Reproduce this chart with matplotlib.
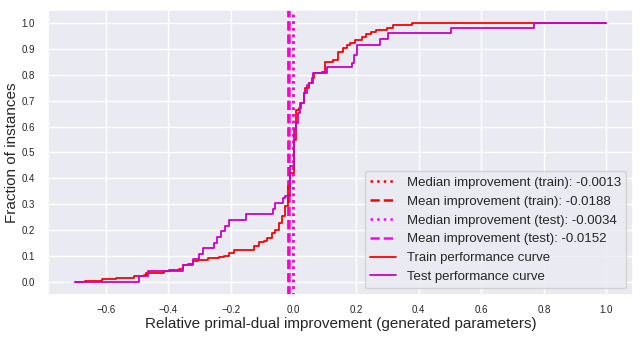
import matplotlib
matplotlib.use("Agg")
import matplotlib.pyplot as plt
import seaborn as sns

# ступенчатые кривые: x точки скачка, y уровень после скачка
train_x = [-0.700, -0.666, -0.613, -0.567, -0.509, -0.479, -0.471, -0.465, -0.413, -0.398,
           -0.366, -0.355, -0.339, -0.323, -0.307, -0.275, -0.238, -0.223, -0.207, -0.190,
           -0.154, -0.127, -0.111, -0.095, -0.085, -0.069, -0.058, -0.048, -0.037, -0.026,
           -0.019, -0.013, 0.000, 0.009, 0.016, 0.023, 0.032, 0.037, 0.048, 0.058,
           0.064, 0.090, 0.101, 0.127, 0.143, 0.159, 0.170, 0.180, 0.196, 0.218,
           0.233, 0.249, 0.265, 0.297, 0.318, 0.377, 1.000]
train_y = [0.000, 0.005, 0.012, 0.017, 0.022, 0.027, 0.033, 0.036, 0.041, 0.045,
           0.050, 0.064, 0.070, 0.080, 0.086, 0.092, 0.095, 0.100, 0.112, 0.125,
           0.125, 0.137, 0.153, 0.160, 0.170, 0.189, 0.202, 0.228, 0.253, 0.292,
           0.369, 0.420, 0.549, 0.664, 0.671, 0.690, 0.729, 0.748, 0.767, 0.787,
           0.806, 0.812, 0.851, 0.857, 0.889, 0.902, 0.915, 0.922, 0.934, 0.947,
           0.958, 0.966, 0.973, 0.980, 0.992, 1.000, 1.000]

test_x = [-0.700, -0.493, -0.464, -0.355, -0.323, -0.302, -0.291, -0.254, -0.245, -0.232,
          -0.220, -0.207, -0.151, -0.066, -0.058, -0.034, -0.026, -0.011, 0.000, 0.009,
          0.013, 0.021, 0.032, 0.043, 0.048, 0.062, 0.106, 0.186, 0.193, 0.202,
          0.276, 0.302, 0.502, 0.767, 1.000]
test_y = [0.000, 0.022, 0.043, 0.065, 0.087, 0.109, 0.130, 0.152, 0.174, 0.196,
          0.217, 0.239, 0.261, 0.283, 0.304, 0.326, 0.330, 0.446, 0.587, 0.613,
          0.652, 0.690, 0.729, 0.761, 0.767, 0.806, 0.831, 0.845, 0.877, 0.915,
          0.937, 0.960, 0.980, 1.000, 1.000]

median_train = -0.0013
mean_train = -0.0188
median_test = -0.0034
mean_test = -0.0152

sns.set_theme(style="darkgrid")
plt.rcParams['font.family'] = ['Liberation Sans', 'DejaVu Sans']

fig = plt.figure(figsize=(6.44, 3.39), dpi=100)
ax = fig.add_axes([0.0745, 0.130, 0.9085, 0.8405])

ax.axvline(median_train, color='#ff0000', linestyle=':', linewidth=1.8,
           label=f"Median improvement (train): {median_train:.4f}")
ax.axvline(mean_train, color='#ff0000', linestyle='--', linewidth=1.8,
           label=f"Mean improvement (train): {mean_train:.4f}")
ax.axvline(median_test, color='#ff00ff', linestyle=':', linewidth=1.8,
           label=f"Median improvement (test): {median_test:.4f}")
ax.axvline(mean_test, color='#ff00ff', linestyle='--', linewidth=1.8,
           label=f"Mean improvement (test): {mean_test:.4f}")
ax.step(train_x, train_y, where='post', color='#ff0000', linewidth=1.3,
        label="Train performance curve")
ax.step(test_x, test_y, where='post', color='#cc00cc', linewidth=1.3,
        label="Test performance curve")

ax.set_xlim(-0.785, 1.085)
ax.set_ylim(-0.05, 1.05)
ax.set_xticks([-0.6, -0.4, -0.2, 0.0, 0.2, 0.4, 0.6, 0.8, 1.0])
ax.set_yticks([i / 10 for i in range(11)])
ax.tick_params(labelsize=7)
ax.tick_params(axis='x', pad=1)
ax.set_xlabel("Relative primal-dual improvement (generated parameters)", fontsize=11, labelpad=2)
ax.set_ylabel("Fraction of instances", fontsize=11, labelpad=2)
ax.legend(loc='lower right', fontsize=9.5)

fig.savefig("out.png", dpi=100)
